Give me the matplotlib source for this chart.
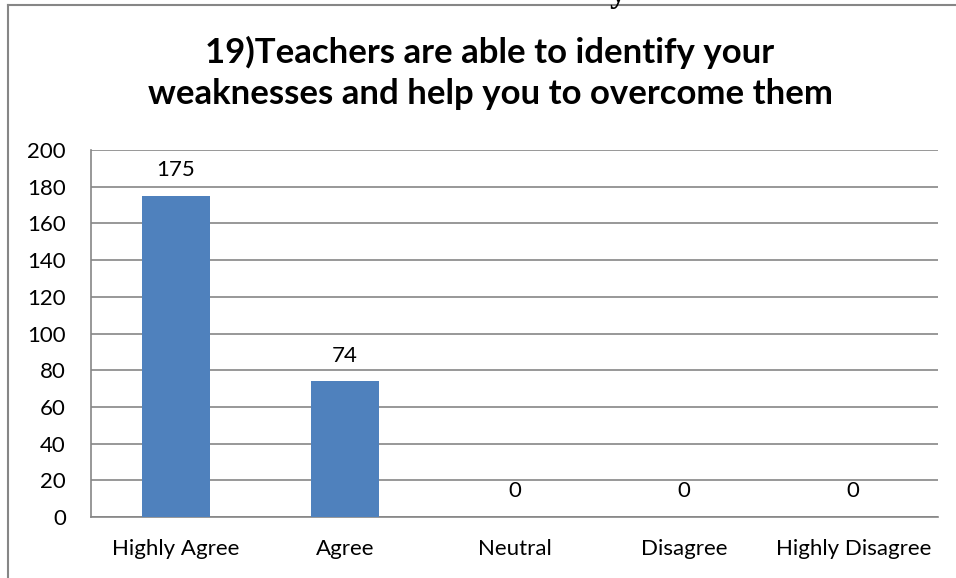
import matplotlib
matplotlib.use("Agg")
import matplotlib.pyplot as plt
from matplotlib.lines import Line2D

plt.rcParams['font.family'] = ['Lato', 'DejaVu Sans']

# data
categories = ['Highly Agree', 'Agree', 'Neutral', 'Disagree', 'Highly Disagree']
counts = [175, 74, 0, 0, 0]
yticks = list(range(0, 201, 20))
title = '19)Teachers are able to identify your\nweaknesses and help you to overcome them'

bar_color = '#4F81BD'
grid_color = '#868686'

fig = plt.figure(figsize=(9.56, 5.78), dpi=100)
ax = fig.add_axes([91/956, 1-517/578, 847/956, 367/578])

x = range(len(categories))
ax.bar(x, counts, width=0.4, color=bar_color, zorder=3)
for xi, v in zip(x, counts):
    ax.annotate(str(v), (xi, v), xytext=(0, 18.5), textcoords='offset points',
                ha='center', va='center', fontsize=16)

ax.set_xlim(-0.5, len(categories)-0.5)
ax.set_ylim(0, 200)
ax.set_yticks(yticks)
ax.set_xticks(list(x))
ax.set_xticklabels(categories)
ax.tick_params(axis='both', length=0, labelsize=16)
ax.tick_params(axis='y', pad=18)
ax.tick_params(axis='x', pad=16)
ax.yaxis.grid(True, color=grid_color, linewidth=1.2, zorder=0)
for s in ['top', 'right']:
    ax.spines[s].set_visible(False)
for s in ['left', 'bottom']:
    ax.spines[s].set_color(grid_color)
    ax.spines[s].set_linewidth(1.2)

fig.text(490/956, 1-73/578, title, ha='center', va='center', fontsize=25,
         fontweight='bold', linespacing=1.35)

# chart frame (left and top edges visible in the crop)
fig.add_artist(Line2D([7.5/956, 7.5/956], [0, 1-5/578], color=grid_color, lw=1.5))
fig.add_artist(Line2D([7.5/956, 1], [1-5/578, 1-5/578], color=grid_color, lw=1.5))
# descender of the text above the chart
fig.text(610/956, 1-2/578, 'y', ha='left', va='baseline', fontsize=24,
         family='Liberation Serif', fontweight='bold')

fig.savefig('out.png', dpi=100)
